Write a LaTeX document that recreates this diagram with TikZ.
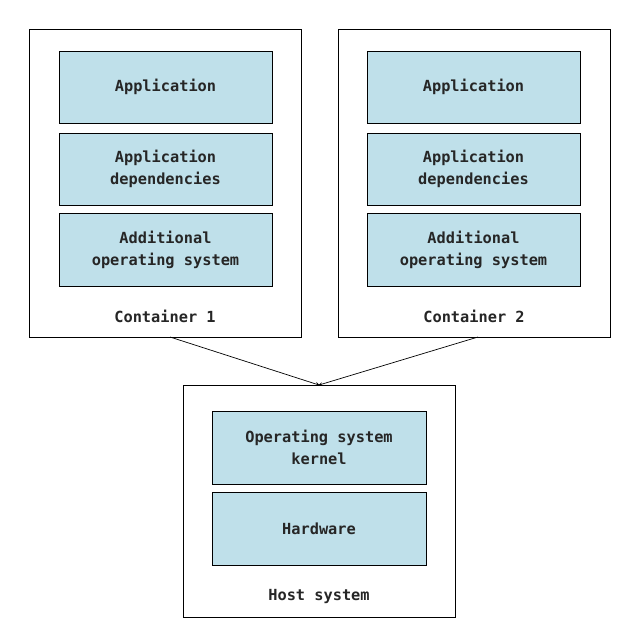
\documentclass[tikz,border=0pt]{standalone}
\usepackage{fontspec}
\setmonofont{DejaVu Sans Mono}
\begin{document}
\begin{tikzpicture}[x=1pt,y=-1pt,
  frame/.style={draw=black,line width=0.8pt,fill=white},
  layer/.style={draw=black,line width=0.8pt,fill=layerblue},
  lbl/.style={font=\ttfamily\bfseries\fontsize{15.3}{22}\selectfont,align=center,text=black!85}]
\definecolor{layerblue}{HTML}{BFE0EA}
\useasboundingbox (0,0) rectangle (638,642);
\fill[white] (0,0) rectangle (638,642);
\draw[frame] (29,29) rectangle (301,337);
\draw[frame] (338,29) rectangle (610,337);
\draw[frame] (183,385) rectangle (455,617);
\foreach \x/\n in {59/a,367/b}{
  \draw[layer] (\x,51) rectangle ++(213,72) node[midway,lbl] (app\n) {Application};
  \draw[layer] (\x,133) rectangle ++(213,72) node[midway,lbl] (dep\n) {Application\\dependencies};
  \draw[layer] (\x,213) rectangle ++(213,73) node[midway,lbl] (os\n) {Additional\\operating system};
}
\node[lbl] (c1) at (165,316) {Container 1};
\node[lbl] (c2) at (474,316) {Container 2};
\draw[layer] (212,411) rectangle (426,484) node[midway,lbl] (kern) {Operating system\\kernel};
\draw[layer] (212,492) rectangle (426,565) node[midway,lbl] (hw) {Hardware};
\node[lbl] (host) at (319,596) {Host system};
\coordinate (s1) at (170,337);
\coordinate (s2) at (478,337);
\coordinate (t) at (319,385);
\draw[-stealth,line width=0.7pt,shorten >=-0.5pt] (s1) -- (t);
\draw[-stealth,line width=0.7pt,shorten >=-0.5pt] (s2) -- (t);
\end{tikzpicture}
\end{document}
